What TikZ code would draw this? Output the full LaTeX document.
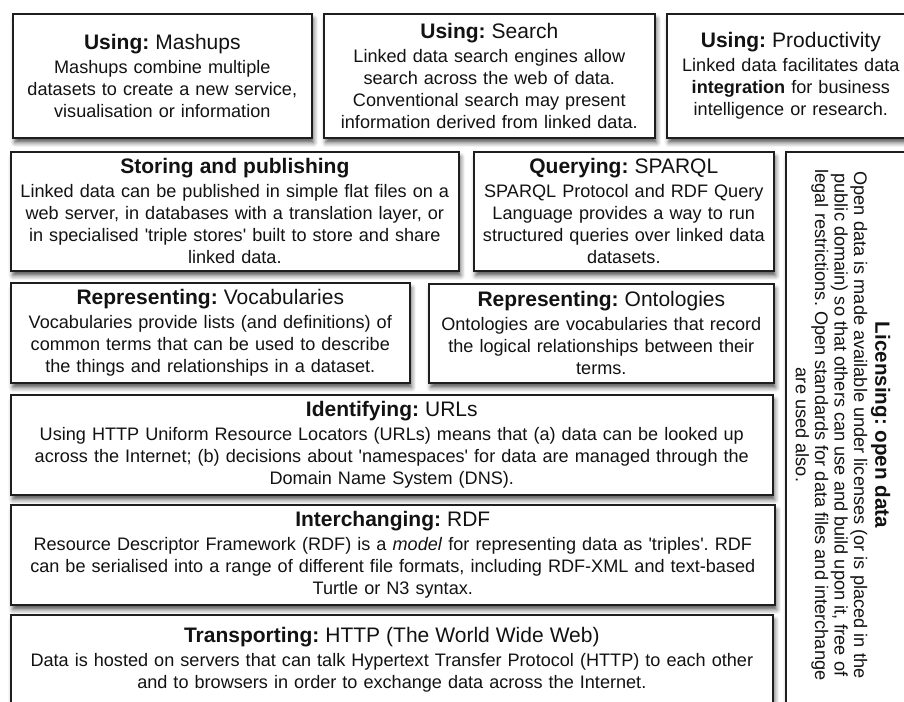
\documentclass[tikz,border=0pt]{standalone}
\usepackage{fontspec}
\setmainfont{Liberation Sans}
\usetikzlibrary{shadows.blur}
\definecolor{boxline}{HTML}{1E1E1E}
\definecolor{boxtext}{HTML}{121212}
\newcommand{\cardtitle}[1]{{\fontsize{10.5}{12}\selectfont #1}\\[1pt]}
\newcommand{\sq}{\textquotesingle}
\frenchspacing

\begin{document}
\begin{tikzpicture}[
    x=0.5pt, y=-0.5pt,
    font=\fontsize{9.05}{11}\selectfont,
    text=boxtext,
    card/.style={draw=boxline, line width=0.8pt, fill=white, anchor=north west,
        align=center, inner xsep=3pt, inner ysep=0pt,
        blur shadow={shadow xshift=1pt, shadow yshift=-2.5pt,
            shadow blur radius=2.2pt, shadow opacity=65}},
]
\useasboundingbox (0,0) rectangle (904,701);
\clip (0,0) rectangle (904,701);

% Top row: uses of linked data
\node[card, text width=143.5pt, minimum height=62pt] (mashups) at (12,13)
    {\cardtitle{\textbf{Using:} Mashups}
     Mashups combine multiple\\
     datasets to create a new service,\\
     visualisation or information};
\node[card, text width=159.5pt, minimum height=62pt] (search) at (323,13)
    {\cardtitle{\textbf{Using:} Search}
     Linked data search engines allow\\
     search across the web of data.\\
     Conventional search may present\\
     information derived from linked data.};
\node[card, text width=118pt, minimum height=62pt] (productivity) at (666,13)
    {\cardtitle{\textbf{Using:} Productivity}
     Linked data facilitates data\\
     \textbf{integration} for business\\
     intelligence or research.};

% Second row
\node[card, text width=218pt, minimum height=59.5pt] (storing) at (10,151)
    {\cardtitle{\textbf{Storing and publishing}}
     Linked data can be published in simple flat files on a\\
     web server, in databases with a translation layer, or\\
     in specialised \sq triple stores\sq{} built to store and share\\
     linked data.};
\node[card, text width=144pt, minimum height=59.5pt] (querying) at (473,151)
    {\cardtitle{\textbf{Querying:} SPARQL}
     SPARQL Protocol and RDF Query\\
     Language provides a way to run\\
     structured queries over linked data\\
     datasets.};

% Licensing column on the right
\node[card, minimum width=62.5pt, minimum height=277pt, text width=0pt, inner xsep=0pt] (licbox) at (785,151) {};
\node[rotate=-90, align=center, font=\fontsize{9.1}{9.7}\selectfont] (lictext) at (843,425)
    {{\fontsize{10.3}{11.5}\selectfont\textbf{Licensing: open data}}\\[1pt]
     Open data is made available under licenses (or is placed in the\\
     public domain) so that others can use and build upon it, free of\\
     legal restrictions. Open standards for data files and interchange\\
     are used also.};

% Third row: representing
\node[card, text width=193.5pt, minimum height=50pt] (vocab) at (10,282)
    {\cardtitle{\textbf{Representing:} Vocabularies}
     Vocabularies provide lists (and definitions) of\\
     common terms that can be used to describe\\
     the things and relationships in a dataset.};
\node[card, text width=166.5pt, minimum height=49.5pt] (ontol) at (428,283)
    {\cardtitle{\textbf{Representing:} Ontologies}
     Ontologies are vocabularies that record\\
     the logical relationships between their\\
     terms.};

% Lower layers
\node[card, text width=375pt, minimum height=50pt] (identify) at (10,394)
    {\cardtitle{\textbf{Identifying:} URLs}
     Using HTTP Uniform Resource Locators (URLs) means that (a) data can be looked up\\
     across the Internet; (b) decisions about \sq namespaces\sq{} for data are managed through the\\
     Domain Name System (DNS).};
\node[card, text width=376pt, minimum height=50pt] (interchange) at (10,504)
    {\cardtitle{\textbf{Interchanging:} RDF}
     Resource Descriptor Framework (RDF) is a \textit{model} for representing data as \sq triples\sq. RDF\\
     can be serialised into a range of different file formats, including RDF-XML and text-based\\
     Turtle or N3 syntax.};
\node[card, text width=375pt, minimum height=45pt] (transport) at (10,614)
    {\cardtitle{\textbf{Transporting:} HTTP (The World Wide Web)}
     Data is hosted on servers that can talk Hypertext Transfer Protocol (HTTP) to each other\\
     and to browsers in order to exchange data across the Internet.};

\end{tikzpicture}
\end{document}
